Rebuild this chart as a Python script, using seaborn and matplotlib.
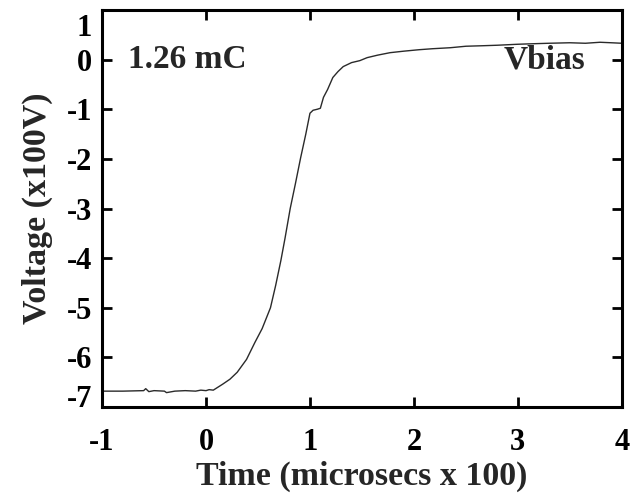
import matplotlib
matplotlib.use("Agg")
import matplotlib.pyplot as plt
import matplotlib.transforms as mtransforms
import seaborn as sns
import pandas as pd

# trace (time in 100 us, voltage in 100 V)
time = [-1.0, -0.8, -0.6, -0.58, -0.55, -0.5, -0.4, -0.38, -0.3, -0.2, -0.1, -0.05, 0.0,
        0.03, 0.07, 0.1, 0.16, 0.23, 0.3, 0.39, 0.47, 0.54, 0.62, 0.67, 0.72, 0.76,
        0.81, 0.86, 0.91, 0.96, 1.0, 1.03, 1.07, 1.1, 1.13, 1.17, 1.22, 1.27, 1.32,
        1.4, 1.48, 1.55, 1.65, 1.77, 1.9, 2.05, 2.18, 2.35, 2.5, 2.66, 2.8, 3.0,
        3.14, 3.3, 3.5, 3.65, 3.79, 3.9, 4.0]
volt = [-6.68, -6.68, -6.67, -6.63, -6.69, -6.67, -6.68, -6.71, -6.68, -6.67, -6.68, -6.66, -6.67,
        -6.65, -6.66, -6.62, -6.54, -6.44, -6.3, -6.04, -5.7, -5.42, -5.0, -4.55, -4.05, -3.6,
        -3.0, -2.5, -1.98, -1.5, -1.08, -1.02, -1.0, -0.98, -0.76, -0.6, -0.36, -0.24, -0.14,
        -0.06, -0.02, 0.04, 0.09, 0.14, 0.17, 0.2, 0.22, 0.24, 0.27, 0.28, 0.29, 0.31,
        0.32, 0.33, 0.34, 0.33, 0.35, 0.34, 0.33]

xticks = [-1, 0, 1, 2, 3, 4]
yticks = [1, 0, -1, -2, -3, -4, -5, -6, -7]

df = pd.DataFrame({"time": time, "volt": volt})

sns.set_theme(style="ticks")
plt.rcParams["font.family"] = ["Liberation Serif", "DejaVu Serif"]
plt.rcParams["font.weight"] = "bold"
plt.rcParams["axes.unicode_minus"] = False

fig = plt.figure(figsize=(6.3, 4.93), dpi=100)
ax = fig.add_axes([0.162, 0.1744, 0.825, 0.8053])

sns.lineplot(df, x="time", y="volt", color="#2a2a2a", linewidth=1.0, ax=ax)

ax.set_xlim(-1, 4)
ax.set_ylim(-7, 1)
ax.set_xticks(xticks)
ax.set_yticks(yticks)
ax.set_xticklabels([str(t) for t in xticks])
ax.set_yticklabels([str(t) for t in yticks])

for s in ax.spines.values():
    s.set_linewidth(2.2)
    s.set_color("black")
ax.tick_params(direction="in", length=7, width=2, top=True, right=True,
               labelsize=22, colors="black")
ax.tick_params(axis="x", pad=15)
ax.tick_params(axis="y", pad=7)
for lab in ax.get_xticklabels() + ax.get_yticklabels():
    lab.set_fontweight("bold")

# end labels on the y axis sit a little inside the frame
ylabs = ax.get_yticklabels()
ylabs[0].set_transform(ylabs[0].get_transform() +
                       mtransforms.ScaledTranslation(0, -11 / 72, fig.dpi_scale_trans))
ylabs[-1].set_transform(ylabs[-1].get_transform() +
                        mtransforms.ScaledTranslation(0, 8 / 72, fig.dpi_scale_trans))

ax.set_xlabel("Time (microsecs x 100)", fontsize=24.5, fontweight="bold", labelpad=3)
ax.set_ylabel("Voltage (x100V)", fontsize=24.5, fontweight="bold", labelpad=10)

ax.text(0.05, 0.875, "1.26 mC", transform=ax.transAxes, fontsize=24,
        fontweight="bold", va="center", ha="left")
ax.text(0.93, 0.875, "Vbias", transform=ax.transAxes, fontsize=24,
        fontweight="bold", va="center", ha="right")

fig.savefig("out.png", dpi=100)
